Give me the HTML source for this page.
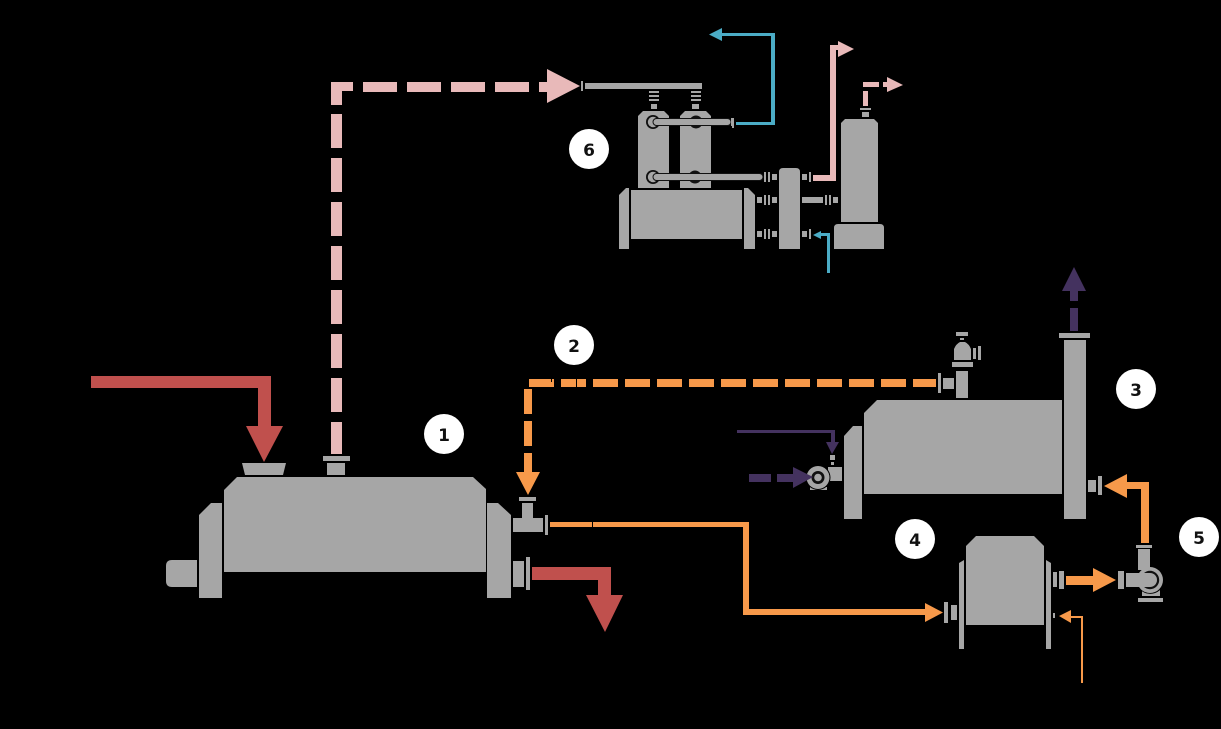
<!DOCTYPE html>
<html><head><meta charset="utf-8"><style>
html,body{margin:0;padding:0;background:#000;width:1221px;height:729px;overflow:hidden}
svg{display:block}
text{font-family:"DejaVu Sans",sans-serif;font-weight:700;font-size:17px;text-anchor:middle;fill:#111}
</style></head><body>
<svg width="1221" height="729" viewBox="0 0 1221 729" xmlns="http://www.w3.org/2000/svg">
<rect width="1221" height="729" fill="#000"/>

<!-- ENGINE 1 -->
<g fill="#a6a6a6">
<polygon points="224,572 224,490 237,477 473,477 486,489 486,572"/>
<polygon points="199,598 199,515 211,503 222,503 222,598"/>
<polygon points="487,598 487,503 498,503 511,515 511,598"/>
<path d="M197,560H172Q166,560 166,566V581Q166,587 172,587H197Z"/>
<polygon points="242,463 286,463 283,475 245,475"/>
<rect x="323" y="456" width="27" height="5"/>
<rect x="327" y="463" width="18" height="12"/>
<rect x="513" y="518" width="30" height="14"/>
<rect x="522" y="503" width="11" height="15"/>
<rect x="519" y="497" width="17" height="4"/>
<rect x="545" y="515" width="3" height="20"/>
<rect x="513" y="561" width="11" height="26"/>
<rect x="526" y="557" width="4" height="33"/>
</g>

<!-- red -->
<g fill="#c0504d">
<rect x="91" y="376" width="180" height="12"/>
<rect x="258" y="376" width="13" height="52"/>
<polygon points="246,426 283,426 264,462"/>
<path d="M532,567H611V597H598V580H532Z"/>
<polygon points="586,595 623,595 605,632"/>
</g>

<!-- pink dashed -->
<g fill="#e8b9b9">
<path d="M331,82H353V91H342V105H331Z"/>
<rect x="363" y="82" width="34" height="10"/>
<rect x="407" y="82" width="34" height="10"/>
<rect x="451" y="82" width="34" height="10"/>
<rect x="495" y="82" width="34" height="10"/>
<rect x="539" y="82" width="10" height="10"/>
<polygon points="547,69 580,86 547,103"/>
<rect x="331" y="114" width="11" height="34"/>
<rect x="331" y="158" width="11" height="34"/>
<rect x="331" y="202" width="11" height="34"/>
<rect x="331" y="246" width="11" height="34"/>
<rect x="331" y="290" width="11" height="34"/>
<rect x="331" y="334" width="11" height="34"/>
<rect x="331" y="378" width="11" height="34"/>
<rect x="331" y="422" width="11" height="32"/>
<!-- pink top right -->
<path d="M813,175H830V45H840V50H836V181H813Z"/>
<polygon points="838,41 854,49 838,57"/>
<rect x="863" y="82" width="16" height="5"/>
<rect x="863" y="91" width="5" height="15"/>
<rect x="883" y="82" width="5" height="5"/>
<polygon points="887,77 903,85 887,92"/>
</g>

<!-- UNIT 6 -->
<g fill="#a6a6a6">
<rect x="585" y="83" width="117" height="6"/>
<rect x="581" y="81" width="2" height="10"/>
<rect x="649" y="91" width="10" height="2"/><rect x="649" y="95" width="10" height="2"/><rect x="649" y="99" width="10" height="2"/><rect x="651" y="104" width="6" height="5"/>
<rect x="691" y="91" width="10" height="2"/><rect x="691" y="95" width="10" height="2"/><rect x="691" y="99" width="10" height="2"/><rect x="692" y="104" width="7" height="5"/>
<polygon points="638,188 638,116 643,111 664,111 669,116 669,188"/>
<polygon points="680,188 680,116 685,111 706,111 711,116 711,188"/>
<rect x="631" y="190" width="111" height="49"/>
<polygon points="619,249 619,195 626,188 629,188 629,249"/>
<polygon points="744,249 744,188 748,188 755,195 755,249"/>
<path d="M779,249V172Q779,168 783,168H796Q800,168 800,172V249Z"/>
<rect x="764" y="172" width="2" height="10"/><rect x="768" y="172" width="2" height="10"/><rect x="772" y="174" width="5" height="6"/>
<rect x="757" y="197" width="5" height="6"/><rect x="764" y="195" width="2" height="10"/><rect x="768" y="195" width="2" height="10"/><rect x="772" y="197" width="5" height="6"/>
<rect x="757" y="231" width="5" height="6"/><rect x="764" y="229" width="2" height="10"/><rect x="768" y="229" width="2" height="10"/><rect x="772" y="231" width="5" height="6"/>
<rect x="802" y="174" width="5" height="6"/><rect x="809" y="172" width="2" height="10"/>
<rect x="802" y="197" width="21" height="6"/><rect x="825" y="195" width="2" height="10"/><rect x="829" y="195" width="2" height="10"/><rect x="833" y="197" width="5" height="6"/>
<rect x="802" y="231" width="5" height="6"/><rect x="809" y="229" width="2" height="10"/>
<polygon points="841,222 841,123 845,119 874,119 878,123 878,222"/>
<path d="M834,249V228Q834,224 838,224H880Q884,224 884,228V249Z"/>
<rect x="860" y="108" width="11" height="2"/>
<rect x="862" y="112" width="7" height="5"/>
</g>
<g>
<circle cx="653" cy="122" r="7" fill="#111"/>
<circle cx="653" cy="122" r="5.200" fill="#a6a6a6"/>
<circle cx="696" cy="122" r="6.500" fill="#111"/>
<circle cx="653" cy="177" r="7" fill="#111"/>
<circle cx="653" cy="177" r="5.200" fill="#a6a6a6"/>
<circle cx="695" cy="177" r="6.500" fill="#111"/>
<rect x="653" y="118.500" width="78" height="7" rx="3.500" fill="#a6a6a6" stroke="#111" stroke-width="1"/>
<rect x="731" y="118" width="1" height="8" fill="#a6a6a6"/>
<rect x="732" y="118" width="2" height="10" fill="#a6a6a6"/>
<rect x="653" y="173.500" width="110" height="7" rx="3.500" fill="#a6a6a6" stroke="#111" stroke-width="1"/>
</g>
<!-- blue -->
<g fill="#4bacc6">
<path d="M736,122H771V36H722V33H775V125H736Z"/>
<polygon points="709,34.500 722,28 722,41"/>
<polygon points="813,235 821,231 821,239"/>
<path d="M820,233H830V273H827V236H820Z"/>
</g>

<!-- BOILER 3 -->
<g fill="#a6a6a6">
<polygon points="864,494 864,413 877,400 1062,400 1062,494"/>
<polygon points="844,519 844,436 853,426 862,426 862,519"/>
<rect x="1064" y="340" width="22" height="179"/>
<rect x="1059" y="333" width="31" height="5"/>
<rect x="956" y="371" width="12" height="27"/>
<rect x="952" y="362" width="21" height="5"/>
<path d="M954,360V349Q956,344 960,342H965Q969,344 971,349V360Z"/>
<rect x="956" y="332" width="12" height="4"/>
<rect x="960" y="338" width="4" height="2"/>
<rect x="973" y="348" width="3" height="11"/>
<rect x="978" y="346" width="3" height="14"/>
<rect x="943" y="378" width="11" height="11"/>
<rect x="938" y="373" width="3" height="20"/>
<rect x="828" y="467" width="14" height="14"/>
<rect x="830" y="455" width="5" height="5"/>
<rect x="831" y="462" width="3" height="3"/>
<rect x="810" y="487" width="17" height="3"/>
<circle cx="818" cy="477.500" r="12.500" fill="#000"/>
<circle cx="818" cy="477.500" r="11.500"/>
<circle cx="818" cy="477.500" r="6.500" fill="#111"/>
<circle cx="818" cy="477.500" r="3.800"/>
<rect x="1088" y="480" width="8" height="12"/>
<rect x="1098" y="476" width="4" height="19"/>
</g>

<!-- orange dashed -->
<g fill="#f7994a">
<rect x="529" y="379" width="25" height="8"/>
<rect x="561" y="379" width="25" height="8"/>
<rect x="593" y="379" width="25" height="8"/>
<rect x="625" y="379" width="25" height="8"/>
<rect x="657" y="379" width="25" height="8"/>
<rect x="689" y="379" width="25" height="8"/>
<rect x="721" y="379" width="25" height="8"/>
<rect x="753" y="379" width="25" height="8"/>
<rect x="785" y="379" width="25" height="8"/>
<rect x="817" y="379" width="25" height="8"/>
<rect x="849" y="379" width="25" height="8"/>
<rect x="881" y="379" width="25" height="8"/>
<rect x="913" y="379" width="23" height="8"/>
<rect x="524" y="389" width="8" height="25"/>
<rect x="524" y="421" width="8" height="25"/>
<rect x="524" y="453" width="8" height="21"/>
<polygon points="516,472 540,472 528,495"/>
<!-- orange solid -->
<path d="M550,522H749V609H926V615H743V527H550Z"/>
<polygon points="925,603 943,612.500 925,622"/>
<polygon points="1104,486 1127,474 1127,498"/>
<path d="M1125,482H1149V543H1141V489H1125Z"/>
<rect x="1066" y="576" width="28" height="9"/>
<polygon points="1093,568 1116,580 1093,592"/>
<polygon points="1059,616 1071,610 1071,623"/>
<path d="M1070,616H1083V683H1081V618H1070Z"/>
</g>
<g fill="#000">
<rect x="551" y="379" width="1" height="3"/><rect x="576" y="379" width="1" height="8"/><rect x="592" y="522" width="1" height="5"/>
</g>

<!-- purple -->
<g fill="#44325f">
<rect x="1070" y="308" width="8" height="23"/>
<rect x="1070" y="289" width="8" height="12"/>
<polygon points="1074,267 1086,291 1062,291"/>
<path d="M737,430H835V444H831V433H737Z"/>
<polygon points="826,442 839,442 832,454"/>
<rect x="749" y="474" width="22" height="8"/>
<rect x="777" y="474" width="18" height="8"/>
<polygon points="793,467 813,477 793,488"/>
</g>

<!-- COMPRESSOR 4 -->
<g fill="#a6a6a6">
<polygon points="966,625 966,546 976,536 1034,536 1044,546 1044,625"/>
<polygon points="959,649 959,563 964,560 964,649"/>
<polygon points="1046,649 1046,560 1051,563 1051,649"/>
<rect x="944" y="602" width="4" height="21"/>
<rect x="951" y="605" width="6" height="15"/>
<rect x="1053" y="572" width="4" height="15"/>
<rect x="1059" y="571" width="5" height="18"/>
<rect x="1053" y="613" width="2" height="5"/>
<!-- pump 5 -->
<rect x="1136" y="545" width="16" height="3"/>
<rect x="1138" y="549" width="12" height="21"/>
<rect x="1142" y="590" width="18" height="6"/>
<path d="M1136,582A14.500,14.500 0 0 0 1164.500,582H1163A13,13 0 0 1 1137.500,582Z" fill="#000"/>
<circle cx="1150" cy="580" r="13"/>
<circle cx="1150" cy="580" r="9.200" fill="#111"/>
<path d="M1126,573H1150A7,7 0 0 1 1150,587H1126Z"/>
<rect x="1118" y="571" width="6" height="18"/>
<rect x="1138" y="598" width="25" height="4"/>
</g>

<!-- NUMBERS -->
<g fill="#fff">
<circle cx="444" cy="434" r="20"/>
<circle cx="574" cy="345" r="20"/>
<circle cx="1136" cy="389" r="20"/>
<circle cx="915" cy="539" r="20"/>
<circle cx="1199" cy="537" r="20"/>
<circle cx="589" cy="149" r="20"/>
</g>
<text x="444" y="441">1</text>
<text x="574" y="352">2</text>
<text x="1136" y="396">3</text>
<text x="915" y="546">4</text>
<text x="1199" y="544">5</text>
<text x="589" y="156">6</text>
</svg>
</body></html>
